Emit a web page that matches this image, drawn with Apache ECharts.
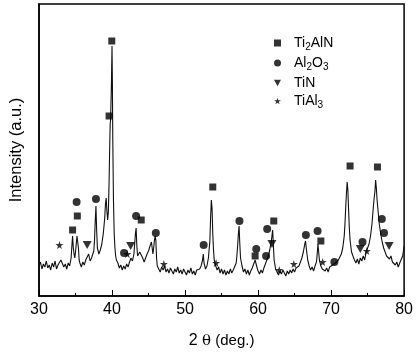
<!DOCTYPE html>
<html><head><meta charset="utf-8">
<script src="https://cdn.jsdelivr.net/npm/echarts@6/dist/echarts.min.js"></script>
<style>html,body{margin:0;padding:0;background:#fff}#c{width:416px;height:355px}</style>
</head><body><div id="c"></div>
<script>
// XRD pattern: [2theta (deg), intensity (a.u.)]
const pattern = [
[30.0,30],[30.2,34],[30.4,27],[30.6,32],[30.8,29],[31.0,35],[31.2,28],[31.4,31],[31.6,26],[31.8,33],
[32.0,29],[32.2,35],[32.4,27],[32.6,31],[32.8,30],[33.0,36],[33.2,38],[33.4,29],[33.6,32],[33.8,27],
[34.0,33],[34.2,30],[34.4,38],[34.5,50],[34.6,60],[34.7,48],[34.8,42],[34.9,38],[35.0,44],[35.1,52],
[35.2,60],[35.3,62],[35.4,48],[35.5,36],[35.6,33],[35.8,29],[36.0,34],[36.2,31],[36.4,36],[36.6,38],
[36.8,42],[37.0,35],[37.2,38],[37.4,40],[37.5,45],[37.6,55],[37.7,75],[37.8,90],[37.9,65],[38.0,48],
[38.2,42],[38.4,46],[38.6,52],[38.8,62],[39.0,78],[39.1,92],[39.2,98],[39.3,85],[39.4,76],[39.5,84],
[39.6,115],[39.7,156],[39.75,172],[39.8,176],[39.9,205],[40.0,250],[40.05,215],[40.1,160],[40.2,95],[40.3,62],
[40.4,48],[40.5,40],[40.6,36],[40.8,33],[41.0,28],[41.2,31],[41.4,26],[41.6,30],[41.8,27],[42.0,32],
[42.2,29],[42.4,34],[42.6,38],[42.8,35],[43.0,42],[43.1,52],[43.2,62],[43.3,68],[43.4,50],[43.5,40],
[43.6,38],[43.8,44],[44.0,46],[44.2,38],[44.4,34],[44.6,38],[44.8,42],[45.0,45],[45.2,50],[45.4,54],
[45.5,48],[45.6,42],[45.7,48],[45.8,55],[45.9,60],[46.0,56],[46.1,38],[46.2,30],[46.4,28],[46.6,24],
[46.8,29],[47.0,26],[47.2,30],[47.4,24],[47.6,27],[47.8,23],[48.0,28],[48.2,25],[48.4,22],[48.6,27],
[48.8,24],[49.0,29],[49.2,23],[49.4,26],[49.6,22],[49.8,27],[50.0,24],[50.2,21],[50.4,26],[50.6,23],
[50.8,28],[51.0,22],[51.2,25],[51.4,21],[51.6,26],[51.8,24],[52.0,27],[52.2,30],[52.4,36],[52.5,42],
[52.6,33],[52.8,27],[53.0,30],[53.2,38],[53.4,55],[53.5,78],[53.6,96],[53.7,88],[53.8,62],[53.9,46],
[54.0,36],[54.2,30],[54.4,26],[54.6,29],[54.8,23],[55.0,27],[55.2,22],[55.4,26],[55.6,21],[55.8,25],
[56.0,22],[56.2,27],[56.4,23],[56.6,26],[56.8,28],[57.0,33],[57.1,40],[57.2,50],[57.3,62],[57.4,70],
[57.5,52],[57.6,38],[57.8,30],[58.0,24],[58.2,27],[58.4,22],[58.6,26],[58.8,21],[59.0,25],[59.2,28],
[59.4,32],[59.6,36],[59.8,30],[60.0,25],[60.2,22],[60.4,26],[60.6,23],[60.8,28],[61.0,32],[61.2,36],
[61.4,40],[61.6,46],[61.8,54],[61.9,60],[62.0,66],[62.1,50],[62.2,36],[62.4,27],[62.6,24],[62.8,21],
[63.0,25],[63.2,22],[63.4,26],[63.6,23],[63.8,20],[64.0,25],[64.2,22],[64.4,26],[64.6,23],[64.8,27],
[65.0,24],[65.2,28],[65.4,26],[65.6,30],[65.8,34],[66.0,38],[66.2,44],[66.4,52],[66.5,55],[66.6,48],
[66.8,36],[67.0,30],[67.2,26],[67.4,29],[67.6,25],[67.8,30],[68.0,34],[68.1,42],[68.2,52],[68.3,50],
[68.4,36],[68.6,30],[68.8,27],[69.0,29],[69.2,25],[69.4,28],[69.6,24],[69.8,29],[70.0,27],[70.2,31],
[70.4,29],[70.6,33],[70.8,32],[71.0,36],[71.2,38],[71.4,42],[71.6,48],[71.8,60],[71.9,72],[72.0,88],
[72.1,102],[72.2,114],[72.3,106],[72.4,86],[72.5,68],[72.6,56],[72.8,44],[73.0,40],[73.2,36],[73.4,33],
[73.6,37],[73.8,32],[74.0,38],[74.2,35],[74.4,40],[74.6,36],[74.8,44],[75.0,46],[75.2,52],[75.4,60],
[75.6,72],[75.8,90],[75.9,98],[76.0,104],[76.1,116],[76.2,108],[76.3,96],[76.4,88],[76.6,72],[76.8,62],
[77.0,54],[77.2,48],[77.4,44],[77.6,40],[77.8,42],[78.0,37],[78.2,40],[78.4,34],[78.6,36],[78.8,31],
[79.0,34],[79.2,29],[79.4,33],[79.6,35],[79.8,40],[80.0,50]
];
// Phase markers [2theta, height]
const ti2alnPeaks = [[34.6,66],[35.25,80],[39.6,180],[39.97,255],[44.0,76],[53.8,109],[59.6,40],[62.15,75],[68.6,55],[72.6,130],[76.35,129]];
const al2o3Peaks = [[35.15,94],[37.8,97],[41.65,43],[43.3,80],[46.0,63],[52.55,51],[57.45,75],[59.75,47],[61.1,40],[61.25,67],[66.55,61],[68.15,65],[70.45,34],[74.3,54],[76.95,77],[77.25,63]];
const tinPeaks = [[36.6,51],[42.55,50],[61.9,52],[74.0,47],[77.95,50]];
const tial3Peaks = [[32.8,51],[42.1,42],[47.1,32],[54.25,33],[62.9,26],[64.9,32],[68.85,34],[74.9,45]];
const xTicks = [30,40,50,60,70,80];
const phaseNames = ['Ti2AlN','Al2O3','TiN','TiAl3'];

const triDown = 'path://M0,0 L10,0 L5,9 Z';
const star = 'path://M50,0 L61,35 L98,35 L68,57 L79,91 L50,70 L21,91 L32,57 L2,35 L39,35 Z';
const FONT = 'Liberation Sans, Arial, sans-serif';

const chart = echarts.init(document.getElementById('c'));
const rich = {
  n:{fontSize:14,lineHeight:18,fontFamily:FONT,color:'#000'},
  s:{fontSize:10,lineHeight:9,verticalAlign:'bottom',fontFamily:FONT,color:'#000'}
};
function sub(name){ return name.replace(/(\D+)(\d)?/g,(m,a,d)=>'{n|'+a+'}'+(d?'{s|'+d+'}':'')); }

chart.setOption({
  animation:false,
  backgroundColor:'#fff',
  grid:{left:39,right:11,top:4,bottom:59,show:true,borderColor:'#000',borderWidth:1.5},
  legend:{
    orient:'vertical',left:269,top:31,itemWidth:7,itemHeight:7,itemGap:4,
    data:[{name:phaseNames[0],icon:'rect'},{name:phaseNames[1],icon:'circle'},{name:phaseNames[2],icon:triDown},{name:phaseNames[3],icon:star}],
    formatter:sub,
    textStyle:{rich:rich,padding:[0,0,0,8]}
  },
  xAxis:{
    type:'value',min:30,max:80,interval:10,
    axisLine:{lineStyle:{color:'#000',width:1.5}},
    axisTick:{inside:true,length:6,lineStyle:{color:'#000',width:1}},
    minorTick:{show:true,splitNumber:2,length:3,lineStyle:{color:'#000',width:1}},
    axisLabel:{color:'#000',fontSize:16,fontFamily:FONT,margin:6,formatter:v=>xTicks.includes(v)?String(v):''},
    splitLine:{show:false},
    name:'{a|2 }{b|θ}{c| (deg.)}',nameLocation:'middle',nameGap:37,
    nameTextStyle:{rich:{a:{fontSize:16,fontFamily:FONT,color:'#000'},b:{fontSize:15,fontFamily:'DejaVu Serif, serif',color:'#000'},c:{fontSize:15,fontFamily:FONT,color:'#000'}}}
  },
  yAxis:{
    type:'value',min:0,max:292,
    axisLine:{show:true,lineStyle:{color:'#000',width:1.5}},
    axisTick:{show:false},axisLabel:{show:false},splitLine:{show:false},
    name:'Intensity (a.u.)',nameLocation:'middle',nameGap:14,
    nameTextStyle:{fontSize:16.5,fontFamily:FONT,color:'#000'}
  },
  series:[
    {type:'line',data:pattern,showSymbol:false,symbol:'none',lineStyle:{color:'#111',width:1.1},z:2,silent:true},
    {name:phaseNames[0],type:'scatter',data:ti2alnPeaks,symbol:'rect',symbolSize:7,itemStyle:{color:'#000'},z:3},
    {name:phaseNames[1],type:'scatter',data:al2o3Peaks,symbol:'circle',symbolSize:8,itemStyle:{color:'#000'},z:3},
    {name:phaseNames[2],type:'scatter',data:tinPeaks,symbol:triDown,symbolSize:[9,8],itemStyle:{color:'#000'},z:3},
    {name:phaseNames[3],type:'scatter',data:tial3Peaks,symbol:star,symbolSize:8,itemStyle:{color:'#000'},z:3}
  ]
});
</script></body></html>
